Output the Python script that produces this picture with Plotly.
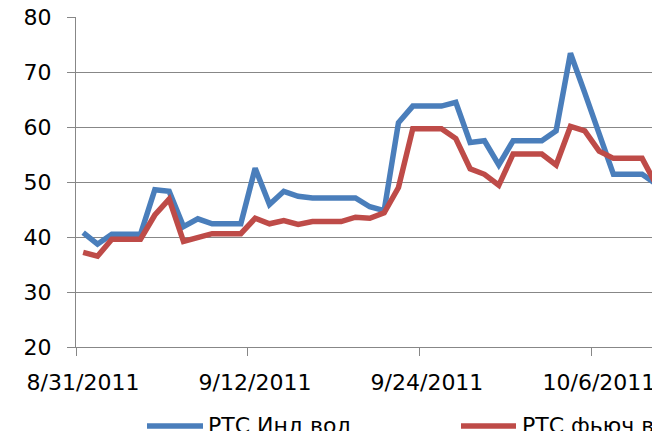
import pandas as pd
import plotly.graph_objects as go

# Daily data, 8/31/2011 .. 10/10/2011
start_date = "2011-08-31"
n_days = 41
dates = pd.date_range(start_date, periods=n_days, freq="D")

series_names = ["РТС Инд вол", "РТС фьюч вол"]

rts_index_vol = [
    40.8, 38.7, 40.5, 40.5, 40.5, 48.6, 48.3, 41.9, 43.3, 42.4,
    42.4, 42.4, 52.5, 45.9, 48.3, 47.4, 47.1, 47.1, 47.1, 47.1,
    45.5, 44.8, 60.8, 63.8, 63.8, 63.8, 64.5, 57.2, 57.5, 53.1,
    57.5, 57.5, 57.5, 59.3, 73.4, 66.2, 59.0, 51.4, 51.4, 51.4,
    49.6,
]
rts_fut_vol = [
    37.2, 36.5, 39.6, 39.6, 39.6, 44.0, 46.9, 39.2, 39.8, 40.6,
    40.6, 40.6, 43.4, 42.4, 43.0, 42.3, 42.8, 42.8, 42.8, 43.6,
    43.4, 44.4, 49.0, 59.7, 59.7, 59.7, 57.9, 52.4, 51.4, 49.4,
    55.1, 55.1, 55.1, 53.1, 60.1, 59.3, 55.6, 54.3, 54.3, 54.3,
    49.4,
]

tick_dates = ["2011-08-31", "2011-09-12", "2011-09-24", "2011-10-06"]
tick_labels = ["8/31/2011", "9/12/2011", "9/24/2011", "10/6/2011"]
y_ticks = [20, 30, 40, 50, 60, 70, 80]

colors = ["#4A7EBB", "#BE4B48"]
grid = "#878787"
FONT = "DejaVu Sans"

# the reference is a crop: everything right of x=652 and below y=431 is blank
W, H = 652, 431
L, R, T, B = 76, 0, 17, 84

# Excel date axis: points sit in the middle of each day
x_pos = dates + pd.Timedelta(hours=12)

fig = go.Figure()
for name, vals, col in zip(series_names, [rts_index_vol, rts_fut_vol], colors):
    fig.add_trace(go.Scatter(
        x=x_pos, y=vals, mode="lines", name=name,
        line=dict(color=col, width=5.5), showlegend=False,
    ))

x_end = pd.Timestamp(start_date) + pd.Timedelta(days=40.19)

fig.update_layout(
    width=W, height=H,
    margin=dict(l=L, r=R, t=T, b=B, autoexpand=False),
    paper_bgcolor="white", plot_bgcolor="white",
    font=dict(family=FONT, size=21, color="#000000"),
    xaxis=dict(
        type="date", range=[pd.Timestamp(start_date), x_end],
        tickvals=tick_dates, ticktext=tick_labels,
        ticks="outside", ticklen=8, tickcolor=grid, tickwidth=1.3,
        showline=True, linecolor=grid, linewidth=1.3,
        showgrid=False, zeroline=False, ticklabelshift=7,
        ticklabelstandoff=7, ticklabeloverflow="allow",
        tickfont=dict(size=22),
    ),
    yaxis=dict(
        range=[20, 80], tickvals=y_ticks,
        ticks="outside", ticklen=8, tickcolor=grid, tickwidth=1.3,
        showline=True, linecolor=grid, linewidth=1.3,
        showgrid=True, gridcolor=grid, gridwidth=1.3, zeroline=False,
        ticklabelstandoff=11, tickfont=dict(size=22),
    ),
)

# custom legend below the plot
pw = W - L - R
ph = H - T - B


def px_x(p):
    return (p - L) / pw


def px_y(p):
    return (H - B - p) / ph


legend_line_y = 426
legend_text_y = 425
legend_items = [(147, 203, 206), (461, 516, 520)]
for (x0, x1, xt), name, col in zip(legend_items, series_names, colors):
    fig.add_shape(type="line", xref="paper", yref="paper",
                  x0=px_x(x0), x1=px_x(x1), y0=px_y(legend_line_y), y1=px_y(legend_line_y),
                  line=dict(color=col, width=5.5))
    fig.add_annotation(xref="paper", yref="paper", x=px_x(xt), y=px_y(legend_text_y),
                       xanchor="left", yanchor="middle", text=name, showarrow=False,
                       font=dict(family=FONT, size=22, color="#000000"))

fig.write_html(
    "out.html",
    config={"displayModeBar": False},
    post_script="document.body.style.margin='0';document.body.style.overflow='hidden';",
)
